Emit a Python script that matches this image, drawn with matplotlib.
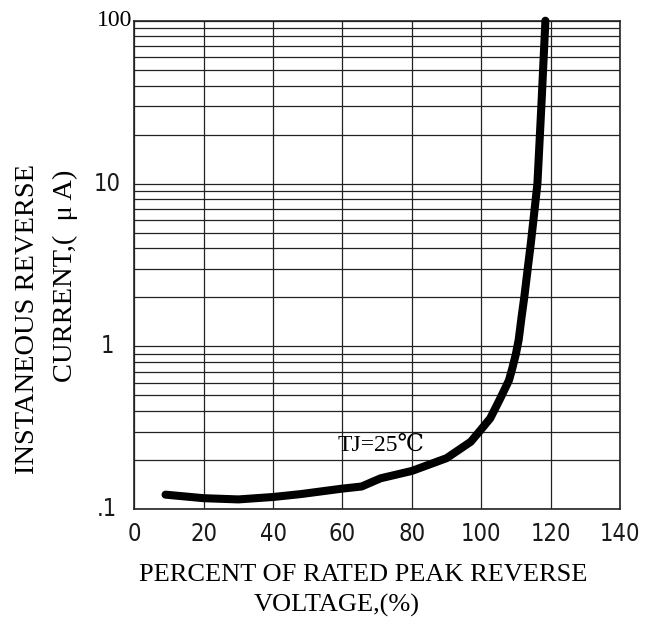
import matplotlib
matplotlib.use("Agg")
import matplotlib.pyplot as plt
from matplotlib.transforms import blended_transform_factory

# ---- data ----
percent_voltage = [9, 20, 30, 40, 48, 60, 65.5, 71, 80, 90, 97, 100, 102.6,
                   105.5, 108, 109, 110, 110.8, 111.6, 112.4, 113.4, 114.3,
                   115.2, 116.2, 117.4, 118.5]
reverse_current = [0.123, 0.117, 0.115, 0.119, 0.124, 0.134, 0.138, 0.155, 0.172,
                   0.206, 0.26, 0.31, 0.362, 0.48, 0.62, 0.74, 0.9, 1.1, 1.5,
                   2.0, 3.0, 4.3, 6.4, 10.0, 32.0, 100.0]
x_ticks = [0, 20, 40, 60, 80, 100, 120, 140]
y_ticks = [0.1, 1, 10, 100]
y_tick_labels = [".1", "1", "10", "100"]
annotation = "TJ=25℃"
x_label_lines = ["PERCENT OF RATED PEAK REVERSE", "VOLTAGE,(%)"]
y_label_lines = ["INSTANEOUS REVERSE", "CURRENT,(  μ A)"]

W, H = 653, 630
fig = plt.figure(figsize=(W / 100, H / 100), dpi=100)
ax = fig.add_axes([134.3 / W, 1 - 509.3 / H, (620 - 134.3) / W, (509.3 - 20.7) / H])
ax.set_yscale("log")
ax.set_xlim(0, 140)
ax.set_ylim(0.1, 100)

# grid
grid_kw = dict(color="#222222", lw=0.9, zorder=1)
for xv in x_ticks:
    ax.axvline(xv, **grid_kw)
for dec in [0.1, 1, 10]:
    for m in range(1, 10):
        ax.axhline(dec * m, **grid_kw)
ax.axhline(100, **grid_kw)

for s in ax.spines.values():
    s.set_color("#222222")
    s.set_linewidth(1.2)

ax.plot(percent_voltage, reverse_current, color="black", lw=5.8,
        solid_capstyle="round", solid_joinstyle="round", zorder=3, clip_on=False)

ax.set_xticks(x_ticks)
ax.set_xticklabels([str(v) for v in x_ticks])
ax.tick_params(axis="x", length=0, pad=9, colors="#1a1a1a")
for lab in ax.get_xticklabels():
    lab.set_fontfamily("DejaVu Sans")
    lab.set_fontstretch("condensed")
    lab.set_fontsize(17)
    lab.set_fontweight("light")
ax.set_yticks([])
ax.minorticks_off()
ax.tick_params(axis="y", which="both", length=0, labelleft=False)

# y tick labels
tr = blended_transform_factory(fig.transFigure, ax.transData)
for val, lab in zip(y_ticks, y_tick_labels):
    if lab == "100":
        ax.text(132 / W, val, lab, transform=tr, ha="right", va="center",
                family="Liberation Serif", fontsize=17)
    else:
        ax.text(107 / W, val, lab, transform=tr, ha="center", va="center",
                family="DejaVu Sans", fontstretch="condensed", fontsize=17,
                fontweight="light", color="#1a1a1a")

ax.text(71.2, 0.248, annotation, ha="center", va="center", fontsize=17,
        family=["Liberation Serif", "DejaVu Serif", "DejaVu Sans"], zorder=4)

fig.text(363 / W, 1 - 575 / H, x_label_lines[0], ha="center", va="center",
         family="Liberation Serif", fontsize=19)
fig.text(337 / W, 1 - 605 / H, x_label_lines[1], ha="center", va="center",
         family="Liberation Serif", fontsize=19)
fig.text(28 / W, 1 - 319 / H, y_label_lines[0], ha="center", va="center",
         rotation=90, family="Liberation Serif", fontsize=20.5)
fig.text(65 / W, 1 - 276 / H, y_label_lines[1], ha="center", va="center",
         rotation=90, family="Liberation Serif", fontsize=20.5)

fig.savefig("out.png", dpi=100)
